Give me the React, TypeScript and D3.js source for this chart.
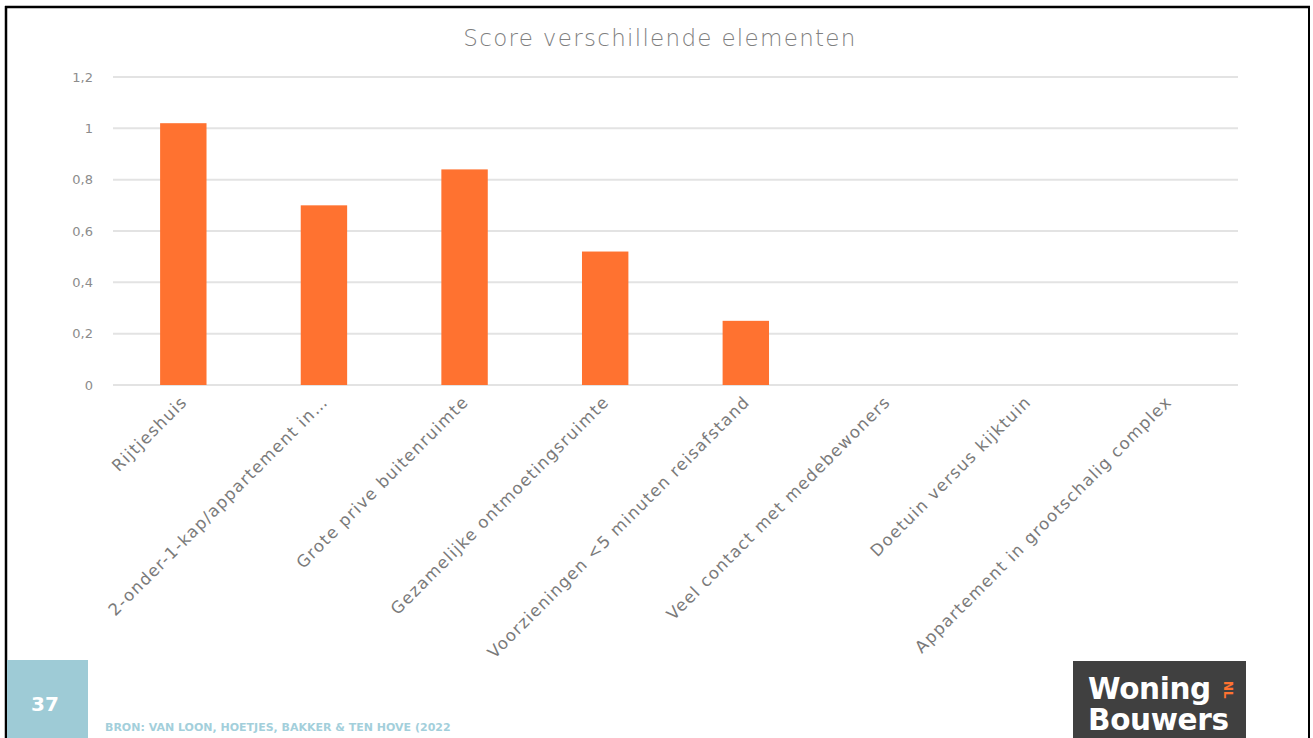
import React from "react";
import * as d3 from "d3";

const categories = [
  "Rijtjeshuis",
  "2-onder-1-kap/appartement in…",
  "Grote prive buitenruimte",
  "Gezamelijke ontmoetingsruimte",
  "Voorzieningen <5 minuten reisafstand",
  "Veel contact met medebewoners",
  "Doetuin versus kijktuin",
  "Appartement in grootschalig complex",
];
const scores = [1.02, 0.7, 0.84, 0.52, 0.25, 0, 0, 0];
const yTicks = [0, 0.2, 0.4, 0.6, 0.8, 1, 1.2];
const title = "Score verschillende elementen";
const source = "BRON: VAN LOON, HOETJES, BAKKER & TEN HOVE (2022";
const pageNumber = "37";

const W = 1313;
const H = 738;
const FONT = "'DejaVu Sans', Lato, sans-serif";

export default function App() {
  const x = d3.scaleBand<string>().domain(categories).range([113, 1238]).paddingInner(0.67).paddingOuter(0.335);
  const xc = d3.scaleBand<string>().domain(categories).range([113, 1238]);
  const y = d3.scaleLinear().domain([0, 1.2]).range([385, 77]);
  const fmt = (v: number) => String(+v.toFixed(1)).replace(".", ",");

  return (
    <svg width={W} height={H} style={{ position: "fixed", left: 0, top: 0, background: "#fff" }}>
      <rect x={0} y={0} width={W} height={H} fill="#fff" />
      {/* slide frame */}
      <line x1={6} y1={6} x2={6} y2={H} stroke="#000" strokeWidth={2.5} />
      <line x1={5} y1={7} x2={1310} y2={7} stroke="#000" strokeWidth={2.5} />
      <line x1={1309} y1={6} x2={1309} y2={H} stroke="#000" strokeWidth={2} />

      <text x={660} y={46} textAnchor="middle" fontFamily={FONT} fontWeight={200} fontSize={23} letterSpacing={1.3} fill="#7f7f7f">
        {title}
      </text>

      {yTicks.map((t) => (
        <g key={t}>
          <line x1={113} x2={1238} y1={y(t)} y2={y(t)} stroke="#e3e3e3" strokeWidth={2} />
          <text x={93} y={y(t) + 4.5} textAnchor="end" fontFamily={FONT} fontSize={13} fill="#8c8c8c">
            {fmt(t)}
          </text>
        </g>
      ))}

      {categories.map((c, i) => (
        <rect key={c} x={x(c)} y={y(scores[i])} width={x.bandwidth()} height={y(0) - y(scores[i])} fill="#ff7230" />
      ))}

      {categories.map((c) => {
        const cx = (xc(c) as number) + xc.bandwidth() / 2 + 5;
        const cy = 403;
        return (
          <text
            key={c}
            transform={`translate(${cx},${cy}) rotate(-45)`}
            textAnchor="end"
            fontFamily={FONT}
            fontSize={16.5}
            letterSpacing={1.25}
            fill="#7a7a7a"
          >
            {c}
          </text>
        );
      })}

      {/* page number */}
      <rect x={7} y={660} width={81} height={78} fill="#9ecbd6" />
      <text x={45} y={711} textAnchor="middle" fontFamily={FONT} fontWeight={700} fontSize={20} fill="#fff">
        {pageNumber}
      </text>
      <text x={105} y={731} fontFamily={FONT} fontWeight={700} fontSize={11} fill="#a3cfdb">
        {source}
      </text>

      {/* logo */}
      <rect x={1073} y={661} width={173} height={77} fill="#404040" />
      <text fontFamily={FONT} fontWeight={700} fontSize={29.5} fill="#fff" letterSpacing={-0.35}>
        <tspan x={1088} y={699}>Woning</tspan>
        <tspan x={1088} y={730}>Bouwers</tspan>
      </text>
      <text transform="translate(1224,681) rotate(90)" fontFamily={FONT} fontWeight={700} fontSize={12} fill="#ff7230">
        NL
      </text>
    </svg>
  );
}
